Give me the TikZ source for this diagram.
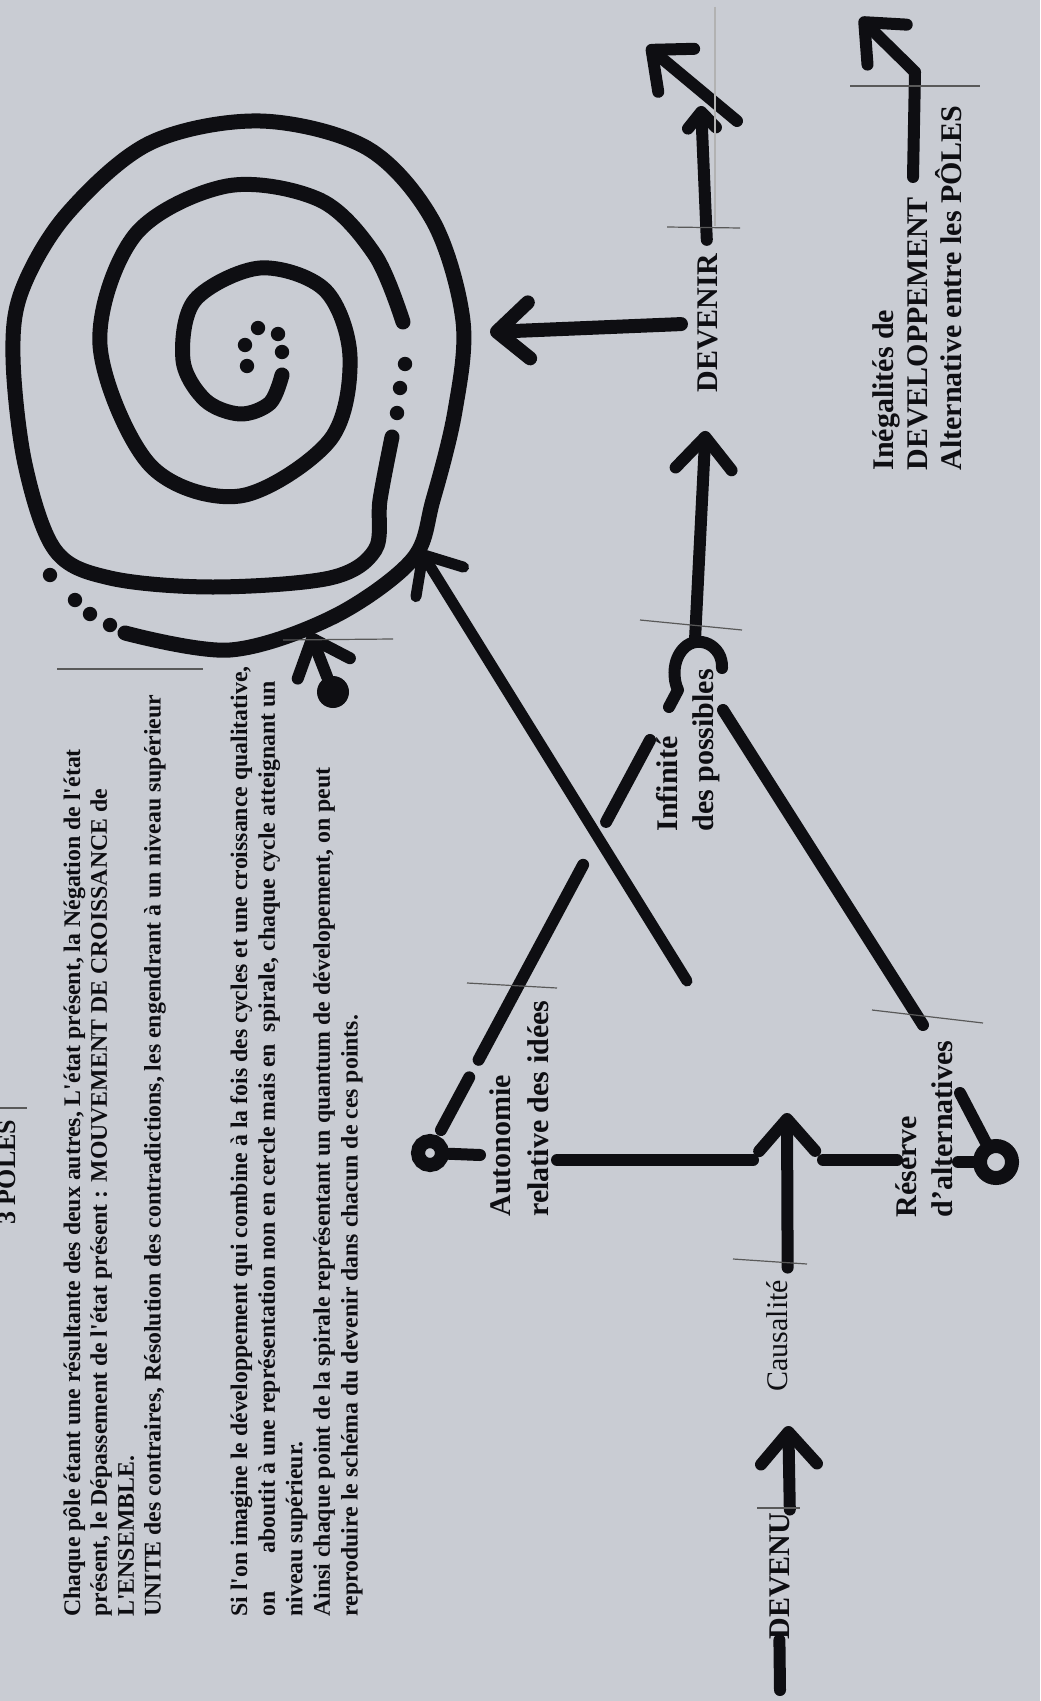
\documentclass[tikz,border=0pt]{standalone}
\usepackage{fontspec}
\setmainfont{Liberation Serif}
\usetikzlibrary{arrows.meta,calc}

\definecolor{paper}{RGB}{201,204,211}
\definecolor{ink}{RGB}{14,14,18}
\newcommand{\sq}{\textquotesingle}

\begin{document}
\begin{tikzpicture}[x=0.5pt,y=-0.5pt,
  pen/.style={draw=ink,line width=6pt,line cap=round,line join=round},
  arr/.style={pen,-{Straight Barb[round,length=16pt,width=28pt]}},
  smallarr/.style={pen,-{Straight Barb[round,length=8pt,width=14pt]}},
  fine/.style={draw=black!65,line width=0.6pt},
  lbl/.style={rotate=90,inner sep=0pt,text=ink,font=\fontsize{15}{18}\selectfont\bfseries},
  para/.style={rotate=90,inner sep=0pt,text=ink,align=left,
               font=\fontsize{11.9}{13.4}\selectfont\bfseries},
  ring/.style={circle,draw=ink,line width=7pt,inner sep=0pt}]

\clip (0,0) rectangle (1040,1701);
\fill[paper] (0,0) rectangle (1040,1701);

% texts
\node[lbl,anchor=base west,font=\fontsize{13}{15}\selectfont\bfseries] (title) at (16,1225) {3 PÔLES};
\node[para,anchor=north west] (intro) at (63,1617)
  {Chaque pôle étant une résultante des deux autres, L\sq état présent, la Négation de l\sq état\\
   présent, le Dépassement de l\sq état présent : MOUVEMENT DE CROISSANCE de\\
   L\sq ENSEMBLE.\\
   UNITE des contraires, Résolution des contradictions, les engendrant à un niveau supérieur};
\node[para,anchor=north west,font=\fontsize{11.9}{13.8}\selectfont\bfseries] (spirale) at (230,1617)
  {Si l\sq on imagine le développement qui combine à la fois des cycles et une croissance qualitative,\\
   on\hspace{1.6em}aboutit à une représentation non en cercle mais en \ spirale, chaque cycle atteignant un\\
   niveau supérieur.\\
   Ainsi chaque point de la spirale représentant un quantum de dévelopement, on peut\\
   reproduire le schéma du devenir dans chacun de ces points.};
\node[lbl,anchor=base west] (devenir) at (717,393) {DEVENIR};
\node[lbl,anchor=base west] (devenu) at (789,1640) {DEVENU};
\node[lbl,anchor=base west,font=\fontsize{15}{18}\selectfont] (causal) at (787,1392) {Causalité};
\node[lbl,align=left,anchor=north west] (infini) at (656,832) {Infinité\\des possibles};
\node[lbl,align=left,anchor=north west,font=\fontsize{15}{19}\selectfont\bfseries] (autonomie)
  at (489,1217) {Autonomie\\relative des idées};
\node[lbl,align=left,anchor=north west] (reserve) at (895,1218) {Réserve\\d’alternatives};
\node[lbl,align=left,anchor=north west,font=\fontsize{15}{17}\selectfont\bfseries] (inegal)
  at (872,471) {Inégalités de\\DEVELOPPEMENT\\Alternative entre les PÔLES};

% spiral
\draw[pen,line width=7.5pt] plot[smooth,tension=0.55] coordinates {
  (282,375) (270,403) (240,414) (205,400) (183,360) (195,300) (260,268) (325,290)
  (350,357) (330,440) (240,496) (150,465) (100,345) (135,235) (227,186) (320,200)
  (375,255) (403,322)};
\draw[pen,line width=7.5pt] plot[smooth,tension=0.55] coordinates {
  (392,437) (380,500) (375,550) (330,578) (213,587) (110,578) (55,550) (25,464)
  (13,357) (22,290) (67,214) (150,143) (260,121) (367,148) (433,221) (463,321)
  (455,411) (433,500) (412,560) (333,617) (230,650) (125,633)};
\foreach \p in {(405,364),(400,388),(397,413),(110,625),(90,614),(75,600),(50,575),
                (282,352),(278,334),(258,328),(245,345),(247,366)}
  \fill[ink] \p circle (3.6pt);

% poles and marks
\node[ring,minimum size=12pt] (ringA) at (430,1153) {};
\node[ring,minimum size=16pt] (ringR) at (996,1162) {};
\node[circle,fill=ink,inner sep=0pt,minimum size=16pt] (dot) at (333,692) {};

\coordinate (spirE) at (490,332);
\coordinate (upTip) at (701,106);
\coordinate (diagA) at (737,121);
\coordinate (diagB) at (647,46);
\coordinate (devStart) at (913,177);
\coordinate (devBend) at (915,72);
\coordinate (devTip) at (860,18);
\coordinate (hookTop) at (695,640);
\coordinate (posR) at (723,710);
\coordinate (resN) at (923,1025);
\coordinate (posA) at (650,740);
\coordinate (autA) at (441,1130);
\coordinate (crossS) at (687,981);
\coordinate (crossT) at (420,550);
\coordinate (dotT) at (310,633);
\coordinate (stubA) at (480,1155);
\coordinate (autL) at (557,1160);
\coordinate (gapL) at (753,1160);
\coordinate (gapR) at (823,1160);
\coordinate (resL) at (897,1160);
\coordinate (stemR) at (958,1162);
\coordinate (stubR) at (960,1093);
\coordinate (tTip) at (787,1113);
\coordinate (devBot) at (780,1690);

% connectors
\draw[arr,line width=7pt,shorten <=8pt] (devenir.north) -- (spirE);
\draw[smallarr,shorten <=7pt] (devenir.east) -- (upTip);
\draw[arr] (diagA) -- (diagB);
\draw[arr] (devStart) -- (devBend) -- (devTip);
\draw[arr,shorten >=19pt] (hookTop) -- (devenir.west);
\draw[pen] (722,668) .. controls (723,645) and (698,634) .. (684,648)
  .. controls (672,660) and (673,680) .. (678,690) -- (669,707);
\draw[pen] (posR) -- (resN);
\foreach \a/\b in {0/0.21,0.32/0.82,0.865/1}
  \draw[pen] ($(posA)!\a!(autA)$) -- ($(posA)!\b!(autA)$);
\draw[arr,line width=5.5pt] (crossS) -- (crossT);
\draw[arr] (dot) -- (dotT);
\draw[pen] (ringA) -- (stubA);
\draw[pen] (autL) -- (gapL);
\draw[pen] (gapR) -- (resL);
\draw[pen] (stemR) -- (ringR);
\draw[pen] (stubR) -- (ringR);
\draw[arr,shorten <=6pt] (causal.south east) -- (tTip);
\draw[arr,shorten <=1.5pt,shorten >=17pt] (devenu.south east) -- (causal.south west);
\draw[pen] (devenu.west) -- (devBot);

% box edges left over on the sheet
\draw[fine] (850,86) -- (980,86);
\draw[fine] (667,227) -- (740,228);
\draw[fine,draw=black!30] (715,7) -- (715,226);
\draw[fine] (640,620) -- (742,630);
\draw[fine] (283,640) -- (393,639);
\draw[fine] (57,669) -- (203,669);
\draw[fine] (467,983) -- (557,988);
\draw[fine] (872,1010) -- (983,1023);
\draw[fine] (733,1259) -- (807,1264);
\draw[fine] (757,1508) -- (800,1508);
\draw[fine] (0,1108) -- (27,1108);
\end{tikzpicture}
\end{document}
